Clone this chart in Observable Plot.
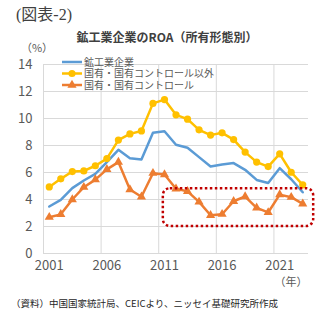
<!DOCTYPE html>
<html>
<head>
<meta charset="utf-8">
<script src="https://cdn.jsdelivr.net/npm/d3@7"></script>
<script src="https://cdn.jsdelivr.net/npm/@observablehq/plot@0.6"></script>
<style>
  html, body { margin: 0; padding: 0; background: #fff; }
  #chart { width: 332px; height: 326px; }
</style>
</head>
<body>
<div id="chart"></div>
<script>
const years = d3.range(2001, 2024);
const mining = [3.48, 3.97, 4.84, 5.41, 5.9, 6.77, 7.68, 7.06, 6.96, 8.94, 9.06, 8.06, 7.83, 7.14, 6.45, 6.6, 6.7, 6.2, 5.45, 5.22, 6.32, 5.5, 4.54];
const nonState = [4.93, 5.53, 6.07, 6.12, 6.5, 7.03, 8.4, 8.86, 9.08, 11.12, 11.4, 10.27, 9.95, 9.16, 8.77, 8.94, 8.44, 7.51, 6.77, 6.44, 7.38, 6.02, 5.09];
const state = [2.69, 2.9, 4.0, 4.91, 5.47, 6.23, 6.77, 4.74, 4.2, 5.95, 5.85, 4.79, 4.6, 3.82, 2.83, 2.91, 3.87, 4.22, 3.38, 3.04, 4.36, 4.17, 3.68];
const seriesNames = ["鉱工業企業", "国有・国有コントロール以外", "国有・国有コントロール"];
const xTicks = [2001, 2006, 2011, 2016, 2021];
const xGrid = [2000.5, 2005.5, 2010.5, 2015.5, 2020.5];
const yTicks = [0, 2, 4, 6, 8, 10, 12, 14];
const highlight = [{x1: 2010.9, x2: 2023.95, y1: 2.0, y2: 4.8}];
const figTitle = "(図表-2)";
const chartTitle = "鉱工業企業のROA（所有形態別）";
const unitLabel = "（%）";
const yearLabel = "（年）";
const caption = "（資料）中国国家統計局、CEICより、ニッセイ基礎研究所作成";

const colors = ["#5b9bd5", "#ffc000", "#ed7d31"];
const toRows = (vals) => years.map((y, i) => ({year: y, v: vals[i]}));
const rMining = toRows(mining), rNon = toRows(nonState), rState = toRows(state);

const font = "'Noto Sans CJK JP', 'Noto Sans', sans-serif";
const serif = "'Liberation Serif', 'DejaVu Serif', 'Noto Sans CJK JP', serif";

const plot = Plot.plot({
  width: 332,
  height: 326,
  marginTop: 64,
  marginBottom: 73,
  marginLeft: 43,
  marginRight: 24,
  style: {fontFamily: font, background: "#fff", overflow: "visible"},
  x: {domain: [2000.5, 2023.5]},
  y: {domain: [0, 14]},
  marks: [
    Plot.ruleY(yTicks, {stroke: "#d9d9d9", strokeWidth: 1}),
    Plot.ruleX(xGrid, {stroke: "#d9d9d9", strokeWidth: 1}),
    Plot.axisX({ticks: xTicks, tickFormat: d => String(d), tickSize: 0, tickPadding: 7, fontSize: 13, color: "#595959", label: null}),
    Plot.axisY({ticks: yTicks, tickSize: 0, tickPadding: 11, fontSize: 13, color: "#595959", label: null}),
    Plot.line(rMining, {x: "year", y: "v", stroke: colors[0], strokeWidth: 2.5}),
    Plot.line(rNon, {x: "year", y: "v", stroke: colors[1], strokeWidth: 2.5}),
    Plot.dot(rNon, {x: "year", y: "v", r: 3.6, fill: colors[1], stroke: null, symbol: "circle"}),
    Plot.line(rState, {x: "year", y: "v", stroke: colors[2], strokeWidth: 2.5}),
    Plot.dot(rState, {x: "year", y: "v", r: 3.4, fill: colors[2], stroke: null, symbol: "triangle"}),
    Plot.rect(highlight, {x1: "x1", x2: "x2", y1: "y1", y2: "y2", fill: "none", stroke: "#c00000", strokeWidth: 2.5, strokeDasharray: "2.5,2.5", rx: 7})
  ]
});

document.getElementById("chart").appendChild(plot);

const svg = d3.select(plot);
const addText = (x, y, t, size, opts = {}) => svg.append("text")
  .attr("x", x).attr("y", y)
  .attr("font-size", size)
  .attr("font-family", opts.family || font)
  .attr("fill", opts.fill || "#404040")
  .attr("font-weight", opts.weight || "normal")
  .attr("text-anchor", opts.anchor || "start")
  .text(t);

addText(16, 20, figTitle, 16, {fill: "#404040", family: serif});
addText(167, 42, chartTitle, 12, {weight: "bold", anchor: "middle", fill: "#404040"});
addText(37, 52, unitLabel, 11, {anchor: "middle", fill: "#595959"});
addText(291, 286, yearLabel, 11, {anchor: "middle", fill: "#595959"});
addText(11, 307, caption, 9.5, {fill: "#262626"});

// legend
const legendRows = [62, 73.5, 85];
legendRows.forEach((ly, i) => {
  svg.append("line").attr("x1", 62).attr("x2", 82).attr("y1", ly).attr("y2", ly)
    .attr("stroke", colors[i]).attr("stroke-width", 2.5);
  if (i === 1) svg.append("circle").attr("cx", 72).attr("cy", ly).attr("r", 3.6).attr("fill", colors[i]);
  if (i === 2) svg.append("path").attr("d", d3.symbol(d3.symbolTriangle, Math.PI * 3.4 * 3.4)())
    .attr("transform", `translate(72,${ly})`).attr("fill", colors[i]);
  addText(84, ly + 3.6, seriesNames[i], 10, {fill: "#595959"});
});
</script>
</body>
</html>
